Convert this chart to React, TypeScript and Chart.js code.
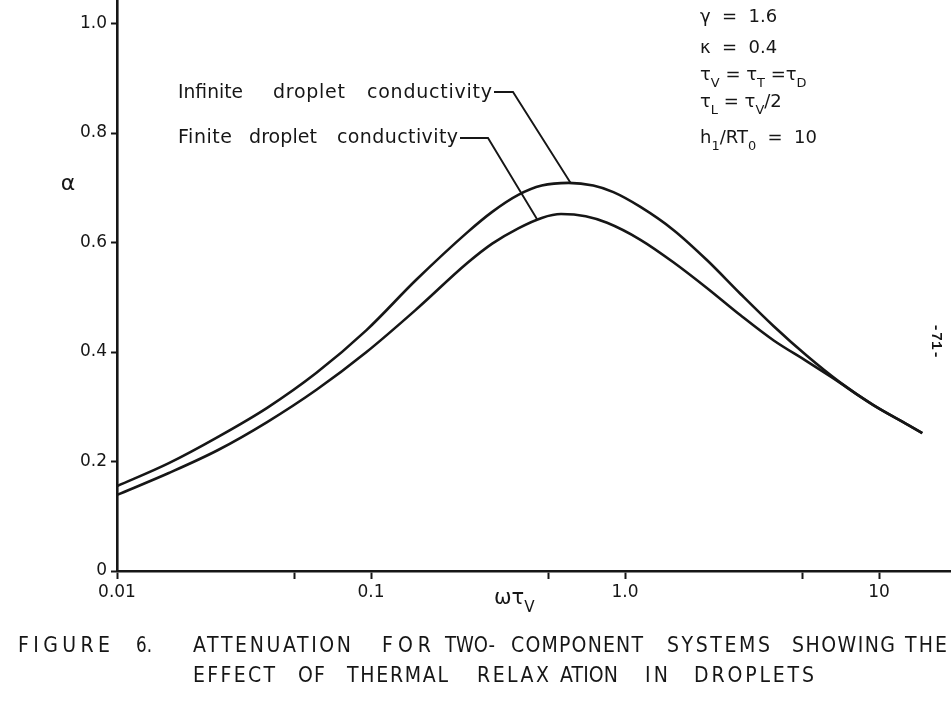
import React, { useEffect, useRef } from "react";
import { Chart, registerables } from "chart.js";

Chart.register(...registerables);

// ---- data ----
const infiniteX = [0.01, 0.016, 0.025, 0.039, 0.061, 0.096, 0.15, 0.24, 0.3, 0.38, 0.47, 0.6, 0.75, 0.9, 1.15, 1.55, 2.1, 2.85, 3.85, 5.2, 7.0, 9.5, 13, 14.8];
const infiniteY = [0.155, 0.197, 0.245, 0.298, 0.362, 0.44, 0.531, 0.619, 0.656, 0.687, 0.704, 0.709, 0.704, 0.692, 0.665, 0.623, 0.568, 0.506, 0.447, 0.393, 0.345, 0.303, 0.267, 0.252];
const finiteX = [0.01, 0.016, 0.025, 0.039, 0.061, 0.096, 0.15, 0.24, 0.3, 0.38, 0.47, 0.56, 0.7, 0.85, 1.15, 1.55, 2.1, 2.85, 3.85, 5.2, 6.5, 9.5, 13, 14.8];
const finiteY = [0.139, 0.179, 0.221, 0.272, 0.331, 0.4, 0.477, 0.563, 0.598, 0.626, 0.645, 0.652, 0.648, 0.636, 0.605, 0.564, 0.517, 0.467, 0.421, 0.383, 0.354, 0.303, 0.267, 0.252];

const xTicks = [0.01, 0.05, 0.1, 0.5, 1, 5, 10];
const xTickLabels = ["0.01", "", "0.1", "", "1.0", "", "10"];
const yTicks = [0, 0.2, 0.4, 0.6, 0.8, 1.0];
const yTickLabels = ["0", "0.2", "0.4", "0.6", "0.8", "1.0"];
const xRange = [0.01, 19.2];
const yRange = [0, 1.043];

// where each leader line touches its curve (data coordinates)
const infiniteAnchor = [0.61, 0.709];
const finiteAnchor = [0.45, 0.643];

const seriesNames = ["Infinite droplet conductivity", "Finite droplet conductivity"];
const captionLine1 = ["FIGURE", "6.", "ATTENUATION", "FOR", "TWO-", "COMPONENT", "SYSTEMS", "SHOWING", "THE"];
const captionLine2 = ["EFFECT", "OF", "THERMAL", "RELAX", "ATION", "IN", "DROPLETS"];

const INK = "#161616";
const SANS = "'DejaVu Sans', 'Liberation Sans', sans-serif";

function fitWord(ctx: CanvasRenderingContext2D, text: string, x0: number, x1: number, y: number, squeeze = 1) {
  (ctx as any).letterSpacing = "0px";
  const w = ctx.measureText(text).width * squeeze;
  const target = x1 - x0;
  ctx.save();
  ctx.translate(x0, y);
  ctx.scale(squeeze, 1);
  if (w >= target) {
    ctx.fillText(text, 0, 0, target / squeeze);
  } else {
    const ls = (target - w) / Math.max(text.length - 1, 1);
    (ctx as any).letterSpacing = ls / squeeze + "px";
    ctx.fillText(text, 0, 0);
    (ctx as any).letterSpacing = "0px";
  }
  ctx.restore();
}

function drawRich(ctx: CanvasRenderingContext2D, x: number, y: number, segs: [string, number][], size: number) {
  let cx = x;
  for (const [t, sub] of segs) {
    const s = sub ? size * 0.72 : size;
    ctx.font = `${s}px ${SANS}`;
    ctx.fillText(t, cx, y + sub * size * 0.38);
    cx += ctx.measureText(t).width;
  }
}

const annotations = {
  id: "annotations",
  afterDraw(chart: any) {
    const ctx: CanvasRenderingContext2D = chart.ctx;
    const xs = chart.scales.x;
    const ys = chart.scales.y;
    ctx.save();
    ctx.fillStyle = INK;
    ctx.strokeStyle = INK;
    ctx.textBaseline = "alphabetic";
    ctx.textAlign = "left";

    // axis titles
    ctx.font = `22px ${SANS}`;
    ctx.textAlign = "center";
    ctx.fillText("α", 68, 190);
    ctx.textAlign = "left";
    drawRich(ctx, 494, 604, [["ωτ", 0], ["V", 1]], 21);

    // series labels
    ctx.font = `19px ${SANS}`;
    const l1 = seriesNames[0].split(" ");
    fitWord(ctx, l1[0], 178, 243, 98);
    fitWord(ctx, l1[1], 273, 345, 98);
    fitWord(ctx, l1[2], 367, 492, 98);
    const l2 = seriesNames[1].split(" ");
    fitWord(ctx, l2[0], 178, 232, 143);
    fitWord(ctx, l2[1], 249, 317, 143);
    fitWord(ctx, l2[2], 337, 458, 143);

    // leader lines
    ctx.lineWidth = 1.9;
    ctx.beginPath();
    ctx.moveTo(494, 92);
    ctx.lineTo(513, 92);
    ctx.lineTo(xs.getPixelForValue(infiniteAnchor[0]), ys.getPixelForValue(infiniteAnchor[1]));
    ctx.stroke();
    ctx.beginPath();
    ctx.moveTo(460, 138);
    ctx.lineTo(488, 138);
    ctx.lineTo(xs.getPixelForValue(finiteAnchor[0]), ys.getPixelForValue(finiteAnchor[1]));
    ctx.stroke();

    // parameter block
    const px = 700;
    drawRich(ctx, px, 22, [["γ  =  1.6", 0]], 18);
    drawRich(ctx, px, 53, [["κ  =  0.4", 0]], 18);
    drawRich(ctx, px, 80, [["τ", 0], ["V", 1], [" = τ", 0], ["T", 1], [" =τ", 0], ["D", 1]], 18);
    drawRich(ctx, px, 107, [["τ", 0], ["L", 1], [" = τ", 0], ["V", 1], ["/2", 0]], 18);
    drawRich(ctx, px, 143, [["h", 0], ["1", 1], ["/RT", 0], ["0", 1], ["  =  10", 0]], 18);

    // caption
    ctx.font = `22px ${SANS}`;
    const pos1 = [[18, 110], [136, 152], [193, 351], [382, 431], [445, 495], [511, 643], [667, 770], [792, 895], [905, 947]];
    captionLine1.forEach((w, i) => fitWord(ctx, w, pos1[i][0], pos1[i][1], 652, 0.86));
    const pos2 = [[193, 275], [298, 325], [347, 448], [477, 549], [560, 618], [645, 668], [694, 814]];
    captionLine2.forEach((w, i) => fitWord(ctx, w, pos2[i][0], pos2[i][1], 682, 0.86));

    // page number
    ctx.save();
    ctx.translate(936, 341);
    ctx.rotate(Math.PI / 2);
    ctx.font = `bold 15px 'Liberation Mono', monospace`;
    ctx.textAlign = "center";
    ctx.textBaseline = "middle";
    ctx.fillText("-71-", 0, 0);
    ctx.restore();

    ctx.restore();
  },
};

const zeroPad = (scale: any) => {
  scale.paddingTop = 0;
  scale.paddingBottom = 0;
  scale.paddingLeft = 0;
  scale.paddingRight = 0;
};

export default function App() {
  const ref = useRef<HTMLCanvasElement | null>(null);
  useEffect(() => {
    if (!ref.current) return;
    const chart = new Chart(ref.current, {
      type: "line",
      data: {
        datasets: [
          {
            label: seriesNames[0],
            data: infiniteX.map((x, i) => ({ x, y: infiniteY[i] })),
            borderColor: INK,
            borderWidth: 2.6,
            pointRadius: 0,
            cubicInterpolationMode: "monotone",
            fill: false,
          },
          {
            label: seriesNames[1],
            data: finiteX.map((x, i) => ({ x, y: finiteY[i] })),
            borderColor: INK,
            borderWidth: 2.6,
            pointRadius: 0,
            cubicInterpolationMode: "monotone",
            fill: false,
          },
        ],
      },
      options: {
        animation: false,
        responsive: false,
        maintainAspectRatio: false,
        layout: { padding: 0 },
        plugins: {
          legend: { display: false },
          tooltip: { enabled: false },
          title: { display: false },
        },
        scales: {
          x: {
            type: "logarithmic",
            min: xRange[0],
            max: xRange[1],
            afterBuildTicks: (scale: any) => {
              scale.ticks = xTicks.map((v) => ({ value: v }));
            },
            afterFit: (scale: any) => {
              scale.height = 145;
              zeroPad(scale);
            },
            ticks: {
              autoSkip: false,
              maxRotation: 0,
              padding: 3,
              color: INK,
              font: { family: SANS, size: 17 },
              callback: (_v: any, i: number) => xTickLabels[i],
            },
            grid: { drawOnChartArea: false, drawTicks: true, tickLength: 8, tickWidth: 2, tickColor: INK, color: INK },
            border: { display: true, color: INK, width: 2.6 },
          },
          y: {
            type: "linear",
            min: yRange[0],
            max: yRange[1],
            afterBuildTicks: (scale: any) => {
              scale.ticks = yTicks.map((v) => ({ value: v }));
            },
            afterFit: (scale: any) => {
              scale.width = 117;
              zeroPad(scale);
            },
            ticks: {
              autoSkip: false,
              padding: 4,
              color: INK,
              font: { family: SANS, size: 17 },
              callback: (_v: any, i: number) => yTickLabels[i],
            },
            grid: { drawOnChartArea: false, drawTicks: true, tickLength: 6, tickWidth: 2, tickColor: INK, color: INK },
            border: { display: true, color: INK, width: 2.6 },
          },
        },
      },
      plugins: [annotations],
    } as any);
    return () => chart.destroy();
  }, []);

  return (
    <div style={{ position: "absolute", left: 0, top: 0, width: 951, height: 716, background: "#fff" }}>
      <canvas ref={ref} width={951} height={716} style={{ display: "block" }} />
    </div>
  );
}
